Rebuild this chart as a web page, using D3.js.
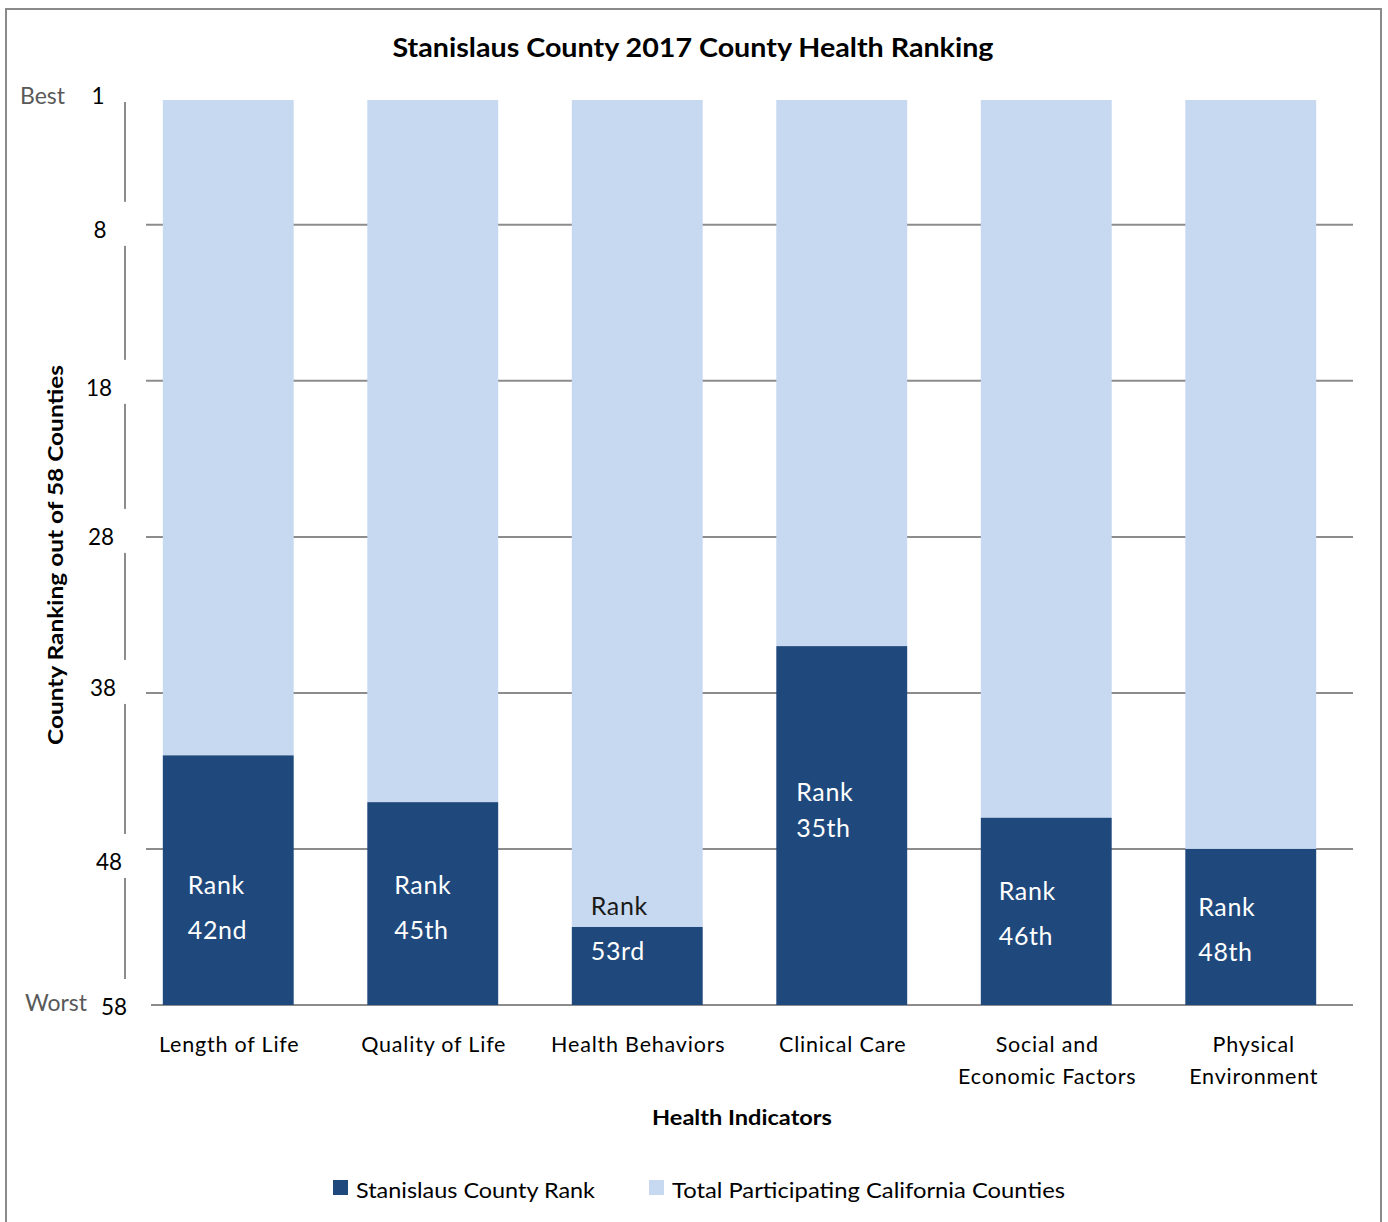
<!DOCTYPE html>
<html>
<head>
<meta charset="utf-8">
<script src="https://cdn.jsdelivr.net/npm/d3@7"></script>
<style>
  html, body { margin: 0; padding: 0; background: #fff; }
  svg { display: block; }
  text { font-family: Lato, "Open Sans", sans-serif; }
</style>
</head>
<body>
<svg id="chart" width="1388" height="1222"></svg>
<script>
// ---- data ----
const title = "Stanislaus County 2017 County Health Ranking";
const categories = [
  ["Length of Life"],
  ["Quality of Life"],
  ["Health Behaviors"],
  ["Clinical Care"],
  ["Social and", "Economic Factors"],
  ["Physical", "Environment"]
];
const countyRank = [42, 45, 53, 35, 46, 48];
const rankLabels = ["42nd", "45th", "53rd", "35th", "46th", "48th"];
const totalCounties = 58;
const tickValues = [0, 8, 18, 28, 38, 48, 58];
const tickLabels = ["1", "8", "18", "28", "38", "48", "58"];
const seriesNames = ["Stanislaus County Rank", "Total Participating California Counties"];
// annotation anchor (in rank units) for the first "Rank" line of each label
const labelAnchor = [50.3, 50.3, 51.65, 44.35, 50.7, 51.7];

// ---- layout ----
const svg = d3.select("#chart");
const colDark = "#1f497d", colLight = "#c6d9f1";
const gridCol = "#8c8c8c";

const x = d3.scaleBand().domain(d3.range(categories.length))
  .range([126, 1353]).paddingInner(0.36).paddingOuter(0.18);
const y = d3.scaleLinear().domain([0, totalCounties]).range([100, 1005]);

// outer frame
svg.append("rect").attr("x", 6).attr("y", 9).attr("width", 1375).attr("height", 1240)
  .attr("fill", "none").attr("stroke", "#8a8a8a").attr("stroke-width", 2);

// title
svg.append("text").attr("x", 693).attr("y", 57).attr("text-anchor", "middle")
  .attr("font-size", 26).attr("font-weight", 700).attr("fill", "#000")
  .attr("textLength", 601).attr("lengthAdjust", "spacingAndGlyphs")
  .text(title);

// gridlines
svg.append("g").selectAll("line").data(tickValues.filter(v => v > 0))
  .join("line")
  .attr("x1", d => d === totalCounties ? 151 : 146).attr("x2", 1353)
  .attr("y1", d => y(d)).attr("y2", d => y(d))
  .attr("stroke", gridCol).attr("stroke-width", 2);

// y axis line
svg.append("line").attr("x1", 125).attr("x2", 125)
  .attr("y1", y(0) + 2).attr("y2", y(totalCounties))
  .attr("stroke", gridCol).attr("stroke-width", 2);

// tick labels with white boxes (they interrupt the axis line)
const tickNudge = [-4, 5, 7, 0, -5, 13, 2];
const tickDx = [-2, 0, -1, 1, 3, 9, 14];
const tg = svg.append("g");
tickValues.forEach((v, i) => {
  const cy = y(v) + tickNudge[i];
  if (i > 0) {
    tg.append("rect").attr("x", 78).attr("y", cy - 28).attr("width", i === tickValues.length - 1 ? 73 : 68)
      .attr("height", i === tickValues.length - 1 ? 60 : 44).attr("fill", "#fff");
  }
  tg.append("text").attr("x", 100 + tickDx[i]).attr("y", cy + 8)
    .attr("text-anchor", "middle").attr("font-size", 22.5).attr("fill", "#000")
    .text(tickLabels[i]);
});

// Best / Worst
svg.append("text").attr("x", 20).attr("y", 104)
  .attr("font-family", "'Liberation Sans', Arial, sans-serif")
  .attr("font-size", 23).attr("fill", "#595959").text("Best");
svg.append("text").attr("x", 25).attr("y", 1011)
  .attr("font-family", "'Liberation Sans', Arial, sans-serif")
  .attr("font-size", 23).attr("fill", "#595959").text("Worst");

// bars
const bars = svg.append("g");
bars.selectAll("rect.light").data(countyRank).join("rect").attr("class", "light")
  .attr("x", (d, i) => x(i)).attr("width", x.bandwidth())
  .attr("y", y(0)).attr("height", d => y(d) - y(0))
  .attr("fill", colLight);
bars.selectAll("rect.dark").data(countyRank).join("rect").attr("class", "dark")
  .attr("x", (d, i) => x(i)).attr("width", x.bandwidth())
  .attr("y", d => y(d)).attr("height", d => y(totalCounties) - y(d))
  .attr("fill", colDark);

// rank labels
const labelDx = [25, 27, 19, 20, 18, 13];
const lg = svg.append("g");
countyRank.forEach((r, i) => {
  const cy = y(labelAnchor[i]);
  const gap = i === 3 ? 36 : 45;
  const lx = x(i) + labelDx[i];
  const firstOnLight = cy < y(r);
  lg.append("text").attr("x", lx).attr("y", cy + 9)
    .attr("font-size", 25).attr("fill", firstOnLight ? "#1a1a1a" : "#fff")
    .attr("letter-spacing", 0.6).text("Rank");
  lg.append("text").attr("x", lx).attr("y", cy + gap + 9)
    .attr("font-size", 25).attr("fill", "#fff")
    .attr("letter-spacing", 0.6).text(rankLabels[i]);
});

// category labels
const cg = svg.append("g");
categories.forEach((lines, i) => {
  lines.forEach((t, j) => {
    cg.append("text").attr("x", x(i) + x.bandwidth() / 2 + (i === 5 ? 3 : 1)).attr("y", 1052 + j * 32)
      .attr("text-anchor", "middle").attr("font-size", 21.5).attr("fill", "#000")
      .attr("letter-spacing", 0.8).text(t);
  });
});

// axis titles
svg.append("text").attr("x", 742).attr("y", 1125).attr("text-anchor", "middle")
  .attr("font-size", 21.5).attr("font-weight", 700).attr("fill", "#000")
  .attr("textLength", 180).attr("lengthAdjust", "spacingAndGlyphs")
  .text("Health Indicators");
svg.append("text").attr("transform", "translate(63,555) rotate(-90)")
  .attr("text-anchor", "middle")
  .attr("font-size", 21.5).attr("font-weight", 700).attr("fill", "#000")
  .attr("textLength", 380).attr("lengthAdjust", "spacingAndGlyphs")
  .text("County Ranking  out of 58 Counties");

// legend
const legX = [333, 649];
const legColors = [colDark, colLight];
const leg = svg.append("g");
seriesNames.forEach((n, i) => {
  leg.append("rect").attr("x", legX[i]).attr("y", 1180).attr("width", 15).attr("height", 15)
    .attr("fill", legColors[i]);
  leg.append("text").attr("x", legX[i] + 23).attr("y", 1198)
    .attr("font-size", 22).attr("fill", "#000")
    .attr("textLength", i === 0 ? 239 : 393).attr("lengthAdjust", "spacingAndGlyphs")
    .text(n);
});
</script>
</body>
</html>
